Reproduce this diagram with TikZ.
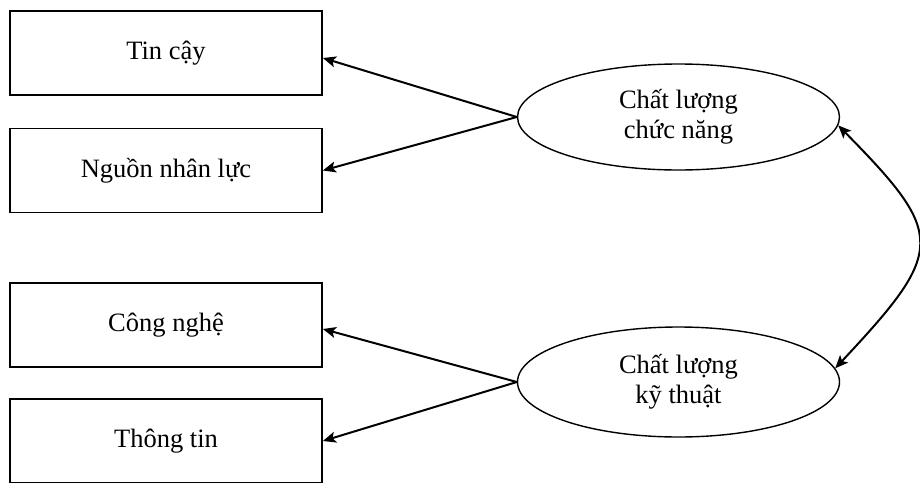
\documentclass[tikz,border=0pt]{standalone}
\usepackage{fontspec}
\setmainfont{Liberation Serif}
\usetikzlibrary{shapes.geometric,arrows.meta}
\begin{document}
\begin{tikzpicture}[x=1pt,y=-1pt,
  boxnode/.style={draw,line width=1.8pt,rectangle,minimum width=312pt,minimum height=84pt,inner sep=0pt,font=\fontsize{26.5}{31}\selectfont},
  ellnode/.style={draw,line width=1.4pt,ellipse,minimum width=322pt,minimum height=106pt,inner sep=0pt,align=center,font=\fontsize{26.5}{30}\selectfont},
  arr/.style={line width=2pt,-{Stealth[length=13pt,width=11pt,inset=3pt]}},
  barr/.style={line width=2pt,{Stealth[length=13pt,width=11pt,inset=3pt]}-{Stealth[length=13pt,width=11pt,inset=3pt]}}]
\useasboundingbox (0,0) rectangle (920,482);
\node[boxnode] (b1) at (166,53) {Tin cậy};
\node[boxnode] (b2) at (166,170.5) {Nguồn nhân lực};
\node[boxnode] (b3) at (166,325) {Công nghệ};
\node[boxnode,minimum height=84pt] (b4) at (166,441) {Thông tin};
\node[ellnode] (e1) at (678.5,117) {Chất lượng\\chức năng};
\node[ellnode,minimum height=110pt] (e2) at (678.5,382) {Chất lượng\\kỹ thuật};
\draw[arr] (e1.west) -- ([yshift=-5pt]b1.east);
\draw[arr] (e1.west) -- (b2.east);
\draw[arr] (e2.west) -- ([yshift=-4pt]b3.east);
\draw[arr] (e2.west) -- (b4.east);
\draw[barr] (e1.-3) .. controls (946,235) and (946,250) .. (e2.5);
\end{tikzpicture}
\end{document}
